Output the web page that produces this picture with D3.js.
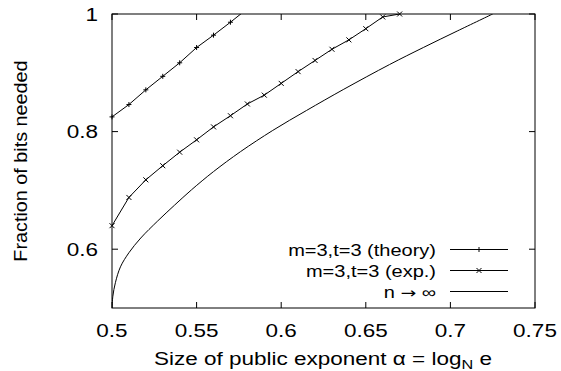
<!DOCTYPE html>
<html>
<head>
<meta charset="utf-8">
<script src="https://cdn.jsdelivr.net/npm/d3@7"></script>
<style>
  body { margin: 0; background: #fff; }
  svg { display: block; }
  text { font-family: "Liberation Sans", Arial, Helvetica, sans-serif; fill: #000; }
</style>
</head>
<body>
<svg id="chart" width="561" height="371"></svg>
<script>
// data
var theoryAlpha = [0.5, 0.51, 0.52, 0.53, 0.54, 0.55, 0.56, 0.57, 0.58];
var theoryFrac  = [0.825, 0.846, 0.871, 0.894, 0.917, 0.943, 0.964, 0.986, 1.009];

var expAlpha = [0.5, 0.51, 0.52, 0.53, 0.54, 0.55, 0.56, 0.57, 0.58, 0.59, 0.60, 0.61, 0.62, 0.63, 0.64, 0.65, 0.66, 0.67];
var expFrac  = [0.640, 0.688, 0.718, 0.742, 0.765, 0.786, 0.808, 0.827, 0.847, 0.862, 0.882, 0.902, 0.921, 0.940, 0.956, 0.975, 0.995, 1.0];

var limAlpha = [0.5, 0.5005, 0.502, 0.505, 0.51, 0.517, 0.527, 0.537, 0.547, 0.56, 0.576, 0.595, 0.615, 0.637, 0.664, 0.684, 0.704, 0.725];
var limFrac  = [0.5, 0.520, 0.543, 0.570, 0.594, 0.619, 0.648, 0.675, 0.701, 0.732, 0.766, 0.802, 0.836, 0.872, 0.914, 0.943, 0.971, 1.0];

var xTicks = [0.5, 0.55, 0.6, 0.65, 0.7, 0.75];
var yTicks = [0.6, 0.8, 1];
var legendNames = ["m=3,t=3 (theory)", "m=3,t=3 (exp.)", "n \u2192 \u221e"];

var svg = d3.select("#chart");
var pL = 112, pR = 535, pT = 14, pB = 308;
var sx = 1.25; // glyphs in the picture are stretched sideways

var x = d3.scaleLinear().domain([0.5, 0.75]).range([pL, pR]);
var y = d3.scaleLinear().domain([0.5, 1]).range([pB, pT]);

function zip(a, b) { return a.map(function(v, i){ return [v, b[i]]; }); }

svg.append("clipPath").attr("id", "clip")
  .append("rect").attr("x", pL).attr("y", pT).attr("width", pR - pL).attr("height", pB - pT);

// ticks (inside, mirrored)
var tk = 6;
var ticks = svg.append("g").attr("stroke", "#000").attr("stroke-width", 1);
xTicks.forEach(function(t){
  ticks.append("line").attr("x1", x(t)).attr("x2", x(t)).attr("y1", pB).attr("y2", pB - tk);
  ticks.append("line").attr("x1", x(t)).attr("x2", x(t)).attr("y1", pT).attr("y2", pT + tk);
});
yTicks.forEach(function(t){
  ticks.append("line").attr("x1", pL).attr("x2", pL + tk).attr("y1", y(t)).attr("y2", y(t));
  ticks.append("line").attr("x1", pR).attr("x2", pR - tk).attr("y1", y(t)).attr("y2", y(t));
});

svg.append("rect").attr("x", pL).attr("y", pT).attr("width", pR - pL).attr("height", pB - pT)
  .attr("fill", "none").attr("stroke", "#000").attr("stroke-width", 1);

// tick labels
xTicks.forEach(function(t){
  svg.append("text").attr("transform", "translate(" + x(t) + ",337) scale(" + sx + ",1)")
    .attr("text-anchor", "middle").attr("font-size", 18).text(d3.format("")(t));
});
yTicks.forEach(function(t){
  svg.append("text").attr("transform", "translate(98," + (y(t) + 6.5) + ") scale(" + sx + ",1)")
    .attr("text-anchor", "end").attr("font-size", 18).text(d3.format("")(t));
});

// axis titles
var xl = svg.append("text").attr("transform", "translate(323,365) scale(" + sx + ",1)")
  .attr("text-anchor", "middle").attr("font-size", 18);
xl.append("tspan").text("Size of public exponent \u03b1 = log");
xl.append("tspan").attr("font-size", 13).attr("dy", 4).text("N");
xl.append("tspan").attr("dy", -4).text(" e");

svg.append("text").attr("transform", "translate(27,161) rotate(-90) scale(1.1,1)")
  .attr("text-anchor", "middle").attr("font-size", 18).text("Fraction of bits needed");

// series
var line = d3.line().x(function(d){ return x(d[0]); }).y(function(d){ return y(d[1]); });
var smooth = d3.line().x(function(d){ return x(d[0]); }).y(function(d){ return y(d[1]); })
  .curve(d3.curveCatmullRom.alpha(0.5));
var plot = svg.append("g").attr("clip-path", "url(#clip)");
var series = [zip(theoryAlpha, theoryFrac), zip(expAlpha, expFrac), zip(limAlpha, limFrac)];

plot.append("path").datum(series[0]).attr("d", line).attr("fill", "none").attr("stroke", "#000");
plot.append("path").datum(series[1]).attr("d", line).attr("fill", "none").attr("stroke", "#000");
plot.append("path").datum(series[2]).attr("d", smooth).attr("fill", "none").attr("stroke", "#000");

function plus(g, cx, cy, s) {
  g.append("path").attr("d", "M" + (cx - s) + "," + cy + "H" + (cx + s) + "M" + cx + "," + (cy - s) + "V" + (cy + s))
    .attr("stroke", "#000").attr("fill", "none");
}
function cross(g, cx, cy, s) {
  g.append("path").attr("d", "M" + (cx - s) + "," + (cy - s) + "L" + (cx + s) + "," + (cy + s) + "M" + (cx - s) + "," + (cy + s) + "L" + (cx + s) + "," + (cy - s))
    .attr("stroke", "#000").attr("fill", "none");
}
var marks = svg.append("g");
series[0].forEach(function(d){ if (d[1] <= 1) plus(marks, x(d[0]), y(d[1]), 2.5); });
series[1].forEach(function(d){ if (d[1] <= 1) cross(marks, x(d[0]), y(d[1]), 2.5); });

// legend
var lg = svg.append("g");
legendNames.forEach(function(name, i){
  var ly = 249.5 + i * 21;
  var t = lg.append("text").attr("transform", "translate(436," + (ly + 6) + ") scale(" + sx + ",1)")
    .attr("text-anchor", "end").attr("font-size", 16);
  if (i === 2) {
    t.append("tspan").text("n ");
    t.append("tspan").attr("font-family", "DejaVu Sans").attr("font-size", 15).text("\u2192");
    t.append("tspan").text(" \u221e");
  } else {
    t.text(name);
  }
  lg.append("line").attr("x1", 450).attr("x2", 508).attr("y1", ly).attr("y2", ly).attr("stroke", "#000");
  if (i === 0) plus(lg, 479, ly, 2.5);
  if (i === 1) cross(lg, 479, ly, 2.5);
});
</script>
</body>
</html>
